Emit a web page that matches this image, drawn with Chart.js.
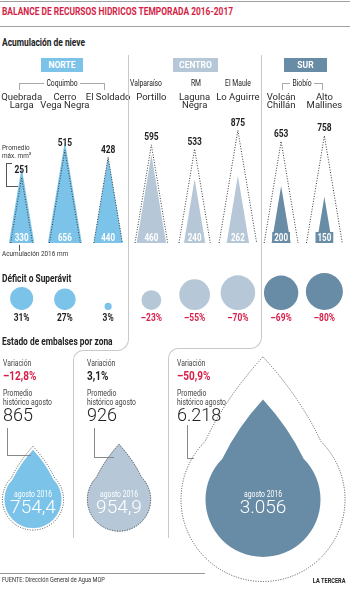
<!DOCTYPE html>
<html lang="es">
<head>
<meta charset="utf-8">
<title>Balance de recursos hídricos temporada 2016-2017</title>
<script src="https://cdn.jsdelivr.net/npm/chart.js@4.4.1/dist/chart.umd.min.js"></script>
<style>
  html, body { margin: 0; padding: 0; background: #fff; }
  #pagina { position: relative; width: 350px; height: 589px; overflow: hidden;
    font-family: 'Roboto', sans-serif; color: #222; }
  .t { position: absolute; white-space: nowrap; line-height: 1; z-index: 2;
    transform: scaleX(0.8); transform-origin: 0 50%; }
  .m { transform: translateX(-50%) scaleX(0.8); transform-origin: 50% 50%; }
  .der { transform-origin: 100% 50%; }
  .b { font-weight: bold; }
  .linea { position: absolute; box-sizing: border-box; border: 0 solid #c9c9c9; z-index: 1; }
  canvas { position: absolute; z-index: 0; }
  .caja { position: absolute; top: 58px; height: 14px; line-height: 14px; color: #fff;
    font-weight: bold; font-size: 8.5px; text-align: center; z-index: 2; }
  .fondo { background: #fff; padding: 0 3px; }
</style>
</head>
<body>
<div id="pagina">
  <div class="linea" style="left:0;top:1px;width:350px;border-top:1.5px solid #a0a0a0"></div>
  <div class="t b" style="left:2px;top:7px;font-size:10.5px;color:#d51e45">BALANCE DE RECURSOS HIDRICOS TEMPORADA 2016-2017</div>
  <div class="linea" style="left:0;top:26px;width:350px;border-top:1px solid #a0a0a0"></div>
  <div class="t b" style="left:2px;top:38px;font-size:10.5px">Acumulación de nieve</div>

  <div class="caja" style="left:41px;width:42px;background:#7cc3ea">NORTE</div>
  <div class="caja" style="left:173px;width:45px;background:#b6c8d7">CENTRO</div>
  <div class="caja" style="left:284px;width:43px;background:#688ba6">SUR</div>

  <div class="linea" style="left:19px;top:83px;width:86px;height:7px;border-width:1px 1px 0 1px;border-color:#aaa"></div>
  <div class="t m fondo" style="left:62px;top:79px;font-size:8.5px">Coquimbo</div>
  <div class="t m" style="left:146px;top:79px;font-size:8.5px">Valparaíso</div>
  <div class="t m" style="left:196px;top:79px;font-size:8.5px">RM</div>
  <div class="t m" style="left:238px;top:79px;font-size:8.5px">El Maule</div>
  <div class="linea" style="left:282px;top:83px;width:41px;height:7px;border-width:1px 1px 0 1px;border-color:#aaa"></div>
  <div class="t m fondo" style="left:302px;top:79px;font-size:8.5px">Biobío</div>

  <!-- separadores -->
  <div class="linea" style="left:83px;top:55px;width:46px;height:296px;border-right-width:1px;border-bottom-width:1px;border-bottom-right-radius:12px"></div>
  <div class="linea" style="left:73px;top:350px;width:20px;height:188px;border-left-width:1px;border-top-width:1px;border-top-left-radius:10px"></div>
  <div class="linea" style="left:178px;top:55px;width:84px;height:294px;border-right-width:1px;border-bottom-width:1px;border-bottom-right-radius:12px"></div>
  <div class="linea" style="left:168px;top:348px;width:20px;height:190px;border-left-width:1px;border-top-width:1px;border-top-left-radius:10px"></div>

  <div class="t" style="left:2px;top:144px;font-size:8px;color:#333">Promedio</div>
  <div class="t" style="left:2px;top:152px;font-size:8px;color:#333">máx. mm³</div>
  <div class="linea" style="left:6px;top:163px;width:6px;height:24px;border-width:1px 0 0 1px;border-color:#555"></div>
  <div class="linea" style="left:6px;top:186px;width:12px;border-top:1px solid #555"></div>
  <div class="linea" style="left:19px;top:245px;height:6px;border-left:1px solid #555"></div>
  <div class="t" style="left:2px;top:250px;font-size:8px;color:#333">Acumulación 2016 mm</div>

  <div class="t b" style="left:2px;top:274px;font-size:10.5px">Déficit o Superávit</div>
  <div class="t b" style="left:2px;top:337px;font-size:10.5px">Estado de embalses por zona</div>

  <canvas id="nieveChart" width="350" height="162" style="left:0;top:84px"></canvas>
  <canvas id="deficitChart" width="350" height="64" style="left:0;top:266px"></canvas>
  <canvas id="gota0" width="73" height="249" style="left:0;top:340px"></canvas>
  <canvas id="gota1" width="95" height="249" style="left:73px;top:340px"></canvas>
  <canvas id="gota2" width="182" height="249" style="left:168px;top:340px"></canvas>

  <div id="embalses"></div>

  <div class="linea" style="left:0;top:573px;width:205px;border-top:1px solid #999"></div>
  <div class="t" style="left:2px;top:576px;font-size:7.5px;color:#333;transform:scaleX(0.75)">FUENTE: Dirección General de Agua MOP</div>
  <div class="t b der" style="right:5px;top:577px;font-size:7.5px;color:#222;transform:scaleX(0.75)">LA TERCERA</div>
</div>

<script>
// Acumulación de nieve por estación (mm)
const estaciones = [['Quebrada', 'Larga'], ['Cerro', 'Vega Negra'], 'El Soldado', 'Portillo',
  ['Laguna', 'Negra'], 'Lo Aguirre', ['Volcán', 'Chillán'], ['Alto', 'Mallines']];
const zonaEstacion = ['norte', 'norte', 'norte', 'centro', 'centro', 'centro', 'sur', 'sur'];
const promedioMax = [251, 515, 428, 595, 533, 875, 653, 758];
const acumulacion2016 = [330, 656, 440, 460, 240, 262, 200, 150];
const deficitSuperavit = [31, 27, 3, -23, -55, -70, -69, -80];

// Estado de embalses (millones de m3)
const zonas = ['Norte', 'Centro', 'Sur'];
const zonaClave = ['norte', 'centro', 'sur'];
const variacionEmbalses = [-12.8, 3.1, -50.9];
const promedioAgosto = [865, 926, 6218];
const agosto2016 = [754.4, 954.9, 3056];

const colores = {
    norte: '#7cc3ea',
    centro: '#b6c8d7',
    sur: '#688ba6',
    rojo: '#d61f48',
    texto: '#1e1e1e',
    punteado: '#3a3a3a'
};
const FUENTE = "'Roboto', sans-serif";
const CONDENSADO = 0.8;

Chart.defaults.font.family = FUENTE;
Chart.defaults.color = colores.texto;
Chart.defaults.animation = false;
Chart.defaults.events = [];
Chart.defaults.plugins.legend.display = false;
Chart.defaults.plugins.tooltip.enabled = false;

function formatoCL(v, dec) {
    const partes = Math.abs(v).toFixed(dec).split('.');
    partes[0] = partes[0].replace(/\B(?=(\d{3})+(?!\d))/g, '.');
    return (v < 0 ? '–' : '') + partes.join(',');
}

function radioDeficit(v) {
    return 2.07 * Math.sqrt(Math.abs(v));
}

function radioGota(v) {
    return 1.04 * Math.sqrt(v);
}

// texto centrado y estrechado, para imitar la tipografía condensada
function textoEstrecho(ctx, txt, x, y, sx) {
    ctx.save();
    ctx.translate(x, y);
    ctx.scale(sx, 1);
    ctx.fillText(txt, 0, 0);
    ctx.restore();
}

const triangulosPlugin = {
    id: 'triangulos',
    afterDatasetsDraw(chart) {
        const ctx = chart.ctx;
        const promedio = chart.getDatasetMeta(0).data;
        const acumulado = chart.getDatasetMeta(1).data;
        ctx.save();
        acumulado.forEach((bar, i) => {
            const w = (bar.base - bar.y) / 3;
            ctx.fillStyle = colores[zonaEstacion[i]];
            ctx.beginPath();
            ctx.moveTo(bar.x, bar.y);
            ctx.lineTo(bar.x + w / 2, bar.base);
            ctx.lineTo(bar.x - w / 2, bar.base);
            ctx.closePath();
            ctx.fill();
        });
        ctx.strokeStyle = colores.punteado;
        ctx.lineWidth = 1;
        ctx.setLineDash([1, 1.6]);
        promedio.forEach((bar) => {
            const w = (bar.base - bar.y) / 3;
            ctx.beginPath();
            ctx.moveTo(bar.x - w / 2, bar.base);
            ctx.lineTo(bar.x, bar.y);
            ctx.lineTo(bar.x + w / 2, bar.base);
            ctx.stroke();
        });
        ctx.setLineDash([]);
        ctx.textAlign = 'center';
        ctx.textBaseline = 'middle';
        ctx.font = 'bold 10px ' + FUENTE;
        acumulado.forEach((bar, i) => {
            const txt = String(acumulacion2016[i]);
            const tw = ctx.measureText(txt).width * CONDENSADO + 4;
            ctx.fillStyle = colores[zonaEstacion[i]];
            ctx.fillRect(bar.x - tw / 2, bar.base - 11, tw, 11);
            ctx.fillStyle = '#fff';
            textoEstrecho(ctx, txt, bar.x, bar.base - 5, CONDENSADO);
        });
        ctx.font = 'bold 10.5px ' + FUENTE;
        ctx.fillStyle = colores.texto;
        promedio.forEach((bar, i) => {
            textoEstrecho(ctx, String(promedioMax[i]), bar.x, bar.y - 7, CONDENSADO);
        });
        ctx.restore();
    }
};

const deficitPlugin = {
    id: 'etiquetasDeficit',
    afterDatasetsDraw(chart) {
        const ctx = chart.ctx;
        const base = chart.scales.y.getPixelForValue(0);
        ctx.save();
        ctx.textAlign = 'center';
        ctx.textBaseline = 'middle';
        ctx.font = 'bold 10.5px ' + FUENTE;
        chart.getDatasetMeta(0).data.forEach((pt, i) => {
            const v = deficitSuperavit[i];
            ctx.fillStyle = v < 0 ? colores.rojo : colores.texto;
            textoEstrecho(ctx, formatoCL(v, 0) + '%', pt.x, base + 8, CONDENSADO);
        });
        ctx.restore();
    }
};

function trazarGota(ctx, x, y, r) {
    const k = 1.74;
    ctx.beginPath();
    ctx.moveTo(x, y - k * r);
    ctx.quadraticCurveTo(x + 0.45 * r, y - 1.25 * r, x + 0.707 * r, y - 0.707 * r);
    ctx.arc(x, y, r, -Math.PI / 4, Math.PI * 5 / 4, false);
    ctx.quadraticCurveTo(x - 0.45 * r, y - 1.25 * r, x, y - k * r);
    ctx.closePath();
}

function gotaPlugin(i) {
    return {
        id: 'gota' + i,
        afterDatasetsDraw(chart) {
            const ctx = chart.ctx;
            const actual = chart.getDatasetMeta(0).data[0];
            const promedio = chart.getDatasetMeta(1).data[0];
            ctx.save();
            trazarGota(ctx, actual.x, actual.y, actual.options.radius);
            ctx.fillStyle = colores[zonaClave[i]];
            ctx.fill();
            trazarGota(ctx, promedio.x, promedio.y, promedio.options.radius);
            ctx.setLineDash([1, 1.5]);
            ctx.lineWidth = 1;
            ctx.strokeStyle = '#4a4a4a';
            ctx.stroke();
            ctx.setLineDash([]);
            ctx.fillStyle = '#fff';
            ctx.textAlign = 'center';
            ctx.textBaseline = 'middle';
            ctx.font = '8.5px ' + FUENTE;
            textoEstrecho(ctx, 'agosto 2016', actual.x, actual.y - 5, CONDENSADO);
            ctx.font = "300 19px 'Roboto', sans-serif";
            ctx.fillText(formatoCL(agosto2016[i], agosto2016[i] % 1 ? 1 : 0), actual.x, actual.y + 9);
            ctx.restore();
        }
    };
}

function crearNieve() {
    const ctx = document.getElementById('nieveChart').getContext('2d');
    return new Chart(ctx, {
        type: 'bar',
        data: {
            labels: estaciones,
            datasets: [
                { label: 'Promedio máx. mm', data: promedioMax, backgroundColor: 'rgba(0,0,0,0)', grouped: false },
                { label: 'Acumulación 2016 mm', data: acumulacion2016, backgroundColor: 'rgba(0,0,0,0)', grouped: false }
            ]
        },
        options: {
            responsive: false,
            layout: { autoPadding: false, padding: { left: 0, right: 4, top: 0, bottom: 3 } },
            scales: {
                x: {
                    position: 'top',
                    grid: { display: false, drawTicks: false },
                    border: { display: false },
                    ticks: {
                        padding: 0,
                        crossAlign: 'far',
                        autoSkip: false,
                        maxRotation: 0,
                        color: '#2a2a2a',
                        font: { size: 9.5, lineHeight: 0.9 }
                    },
                    afterFit(scale) {
                        scale.height = 26;
                    }
                },
                y: { type: 'logarithmic', display: false, min: 44, max: 1500 }
            }
        },
        plugins: [triangulosPlugin]
    });
}

function crearDeficit() {
    const ctx = document.getElementById('deficitChart').getContext('2d');
    return new Chart(ctx, {
        type: 'bubble',
        data: {
            labels: estaciones,
            datasets: [{
                label: 'Déficit o superávit',
                // círculos apoyados sobre una misma base: el centro queda a un radio de ella
                data: deficitSuperavit.map((v, i) => ({ x: i, y: radioDeficit(v), r: radioDeficit(v) })),
                backgroundColor: zonaEstacion.map((z) => colores[z]),
                borderWidth: 0,
                clip: false
            }]
        },
        options: {
            responsive: false,
            layout: { autoPadding: false, padding: { left: 0, right: 4, top: 0, bottom: 0 } },
            scales: {
                x: { type: 'category', offset: true, display: false },
                // 1 unidad = 1 px (área de 64 px); la base queda 20 px sobre el borde inferior
                y: { min: -20, max: 44, display: false }
            }
        },
        plugins: [deficitPlugin]
    });
}

const paddingGotas = [
    { top: 70, right: 7, left: 0, bottom: 0 },
    { top: 70, right: 3, left: 0, bottom: 0 },
    { top: 70, right: 0, left: 8, bottom: 0 }
];

function crearGotas() {
    zonas.forEach((zona, i) => {
        const ctx = document.getElementById('gota' + i).getContext('2d');
        new Chart(ctx, {
            type: 'bubble',
            data: {
                labels: [zona],
                datasets: [
                    { label: 'agosto 2016', data: [{ x: zona, y: 0, r: radioGota(agosto2016[i]) }],
                      backgroundColor: 'rgba(0,0,0,0)', borderWidth: 0, clip: false },
                    { label: 'Promedio histórico agosto', data: [{ x: zona, y: 0, r: radioGota(promedioAgosto[i]) }],
                      backgroundColor: 'rgba(0,0,0,0)', borderWidth: 0, clip: false }
                ]
            },
            options: {
                responsive: false,
                layout: { autoPadding: false, padding: paddingGotas[i] },
                scales: {
                    x: { type: 'category', offset: true, display: false },
                    y: { min: -1, max: 1, display: false }
                }
            },
            plugins: [gotaPlugin(i)]
        });
    });
}

// textos de embalses
const columnasX = [3, 87, 177];
const lideres = [
    { x: 7, top: 428, bottom: 455, w: 24 },
    { x: 94, top: 428, bottom: 457, w: 20 },
    { x: 187, top: 425, bottom: 458, w: 7 }
];

function textosEmbalses() {
    const cont = document.getElementById('embalses');
    let html = '';
    zonas.forEach((zona, i) => {
        const x = columnasX[i];
        const v = variacionEmbalses[i];
        html += `<div class="t" style="left:${x}px;top:359px;font-size:8.5px;color:#444">Variación</div>`;
        html += `<div class="t b" style="left:${x}px;top:370px;font-size:12.5px;color:${v < 0 ? colores.rojo : colores.texto}">${formatoCL(v, 1)}%</div>`;
        html += `<div class="t" style="left:${x}px;top:389px;font-size:8.5px;color:#444">Promedio</div>`;
        html += `<div class="t" style="left:${x}px;top:398px;font-size:8.5px;color:#444">histórico agosto</div>`;
        html += `<div class="t" style="left:${x}px;top:406px;font-size:18px;font-weight:300;color:#222;transform:none">${formatoCL(promedioAgosto[i], 0)}</div>`;
        const l = lideres[i];
        html += `<div class="linea" style="left:${l.x}px;top:${l.top}px;height:${l.bottom - l.top + 1}px;border-left:1px solid #888"></div>`;
        html += `<div class="linea" style="left:${l.x}px;top:${l.bottom}px;width:${l.w}px;border-top:1px solid #888"></div>`;
    });
    cont.innerHTML = html;
}

textosEmbalses();
crearNieve();
crearDeficit();
crearGotas();
</script>
</body>
</html>
